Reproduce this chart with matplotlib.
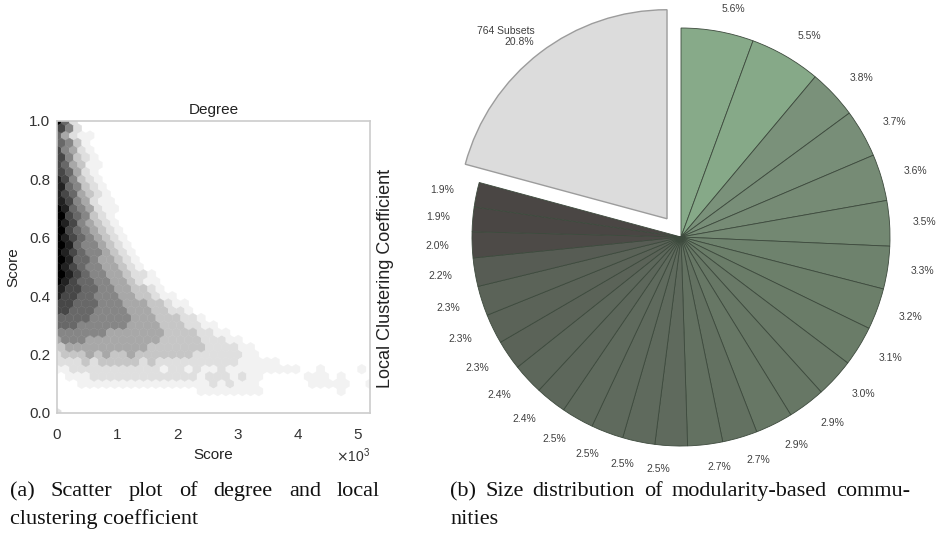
import numpy as np
import matplotlib
matplotlib.use("Agg")
import matplotlib.pyplot as plt
from matplotlib.colors import LinearSegmentedColormap

W, H = 936, 534

# hexbin levels (0 = empty, 9 = darkest), one string per hex row from y=1.0 down to y=0.0
hex_rows = [
    "962",
    "752",
    "64211",
    "6531",
    "75421",
    "75321",
    "764311",
    "76421",
    "875321",
    "865321",
    "8764321",
    "8754211",
    "98654211",
    "9765321",
    "98754321",
    "97654321",
    "987654321",
    "986554321",
    "9876554321",
    "9866544321",
    "98765544321",
    "987655443221",
    "9876655443211",
    "8776655443321",
    "877665554433211",
    "7766655544433211",
    "77666555544433221",
    "666655555444333221",
    "66655555544443332211",
    "555555444444433332211",
    "45554444444443333322211",
    "344444444443333333222211",
    "2333434334333333322222211",
    "222323333323222222222211111",
    "11222222222221221211211111111100100001",
    "01112222222222222122212110000011101",
    "000111111111111111121211100000011111001",
    "00000000000000000111111110000000001",
    "",
    "",
    "2",
]
x_ticks = [0, 1000, 2000, 3000, 4000, 5000]
y_ticks = [0.0, 0.2, 0.4, 0.6, 0.8, 1.0]

# community sizes in percent, clockwise from the top
community_pct = [5.6, 5.5, 3.8, 3.7, 3.6, 3.5, 3.3, 3.2, 3.1, 3.0, 2.9, 2.9, 2.7, 2.7,
                 2.5, 2.5, 2.5, 2.5, 2.4, 2.4, 2.3, 2.3, 2.3, 2.2, 2.0, 1.9, 1.9]
rest_pct = 20.8
rest_name = "764 Subsets"

caption_a = ["(a) Scatter plot of degree and local", "clustering coefficient"]
caption_b = ["(b) Size distribution of modularity-based commu-", "nities"]

plt.rcParams['font.family'] = ['Liberation Sans', 'DejaVu Sans']

fig = plt.figure(figsize=(W / 100, H / 100), dpi=100)


def box(l, t, r, b):
    return [l / W, 1 - b / H, (r - l) / W, (b - t) / H]


# ---- left: degree vs local clustering coefficient ----
ax = fig.add_axes(box(57, 121, 370, 413))
nx, ny = 38, 20
x_max = 5200
sx = x_max / nx
sy = 1.0 / ny
xs, ys, cs = [], [], []
for k, row in enumerate(hex_rows):
    m = len(hex_rows) - 1 - k
    shift = 0.5 if m % 2 else 0.0
    for i, ch in enumerate(row):
        if ch != "0":
            xs.append((i + shift) * sx)
            ys.append(m * sy / 2)
            cs.append(int(ch))
ax.hexbin(xs, ys, C=cs, reduce_C_function=np.max, gridsize=(nx, ny),
          extent=(0, x_max, 0, 1), cmap="Greys", vmin=0, vmax=9,
          linewidths=0.3, edgecolors="face")
ax.set_xlim(0, x_max)
ax.set_ylim(0, 1)
ax.set_xticks(x_ticks)
ax.set_yticks(y_ticks)
ax.ticklabel_format(axis="x", style="sci", scilimits=(3, 3), useMathText=True)
ax.xaxis.get_offset_text().set_fontsize(10)
ax.xaxis.get_offset_text().set_color("#333333")
ax.tick_params(length=0, labelsize=11, labelcolor="#333333")
ax.tick_params(axis="x", pad=11)
ax.tick_params(axis="y", pad=5)
for s in ax.spines.values():
    s.set_color("#cccccc")
    s.set_linewidth(1.2)
ax.set_title("Degree", fontsize=11, color="#222222", pad=5)
ax.set_xlabel("Score", fontsize=11, color="#222222", labelpad=4)
ax.set_ylabel("Score", fontsize=11, color="#222222", labelpad=6)
fig.text(385 / W, 1 - 278 / H, "Local Clustering Coefficient", rotation=90,
         ha="center", va="center", fontsize=13, color="#222222")

# ---- right: community size pie ----
pax = fig.add_axes(box(430, 0, 936, 470))
cx, cy, r = 681, 237, 209
cmap = LinearSegmentedColormap.from_list("comm", [
    (0.0, "#4a4644"), (0.04, "#4f4d49"), (0.09, "#5a6157"), (0.2, "#626f60"),
    (0.35, "#6c7f6a"), (0.51, "#7a917a"), (1.0, "#87aa89")])
pct = np.array(community_pct)
shade = (pct - pct.min()) / (pct.max() - pct.min())
colors = list(cmap(shade)) + ["#dcdcdc"]
sizes = community_pct + [rest_pct]
labels = ["%.1f%%" % v for v in community_pct] + ["%s\n%.1f%%" % (rest_name, rest_pct)]
explode = [0] * len(community_pct) + [0.11]
wedges, texts = pax.pie(sizes, labels=labels, colors=colors, explode=explode,
                        startangle=90, counterclock=False, labeldistance=1.11,
                        wedgeprops=dict(edgecolor="#3d4a3d", linewidth=0.6),
                        textprops=dict(fontsize=7.5, color="#404040"))
wedges[-1].set_edgecolor("#9c9c9c")
wedges[-1].set_linewidth(1.0)
# nudge the big "rest" label a little closer to its wedge
lx, ly = texts[-1].get_position()
texts[-1].set_position((lx + 0.04, ly - 0.01))
pax.set_aspect("auto")
pax.set_xlim((430 - cx) / r, (936 - cx) / r)
pax.set_ylim((cy - 470) / r, cy / r)

# ---- captions, justified like the paper text ----
renderer = fig.canvas.get_renderer()


def justified(words, x0, x1, y):
    items = [fig.text(0, 1 - y / H, w, fontsize=16, family="Liberation Serif",
                      va="baseline", ha="left", color="#111111") for w in words]
    widths = [t.get_window_extent(renderer).width for t in items]
    gap = (x1 - x0 - sum(widths)) / (len(items) - 1)
    x = x0
    for t, w in zip(items, widths):
        t.set_x(x / W)
        x += w + gap


def plain(text, x0, y):
    fig.text(x0 / W, 1 - y / H, text, fontsize=16, family="Liberation Serif",
             va="baseline", ha="left", color="#111111")


justified(caption_a[0].split(), 10, 380, 496)
plain(caption_a[1], 10, 524)
justified(caption_b[0].split(), 450, 910, 496)
plain(caption_b[1], 450, 524)

fig.savefig("out.png", dpi=100)
